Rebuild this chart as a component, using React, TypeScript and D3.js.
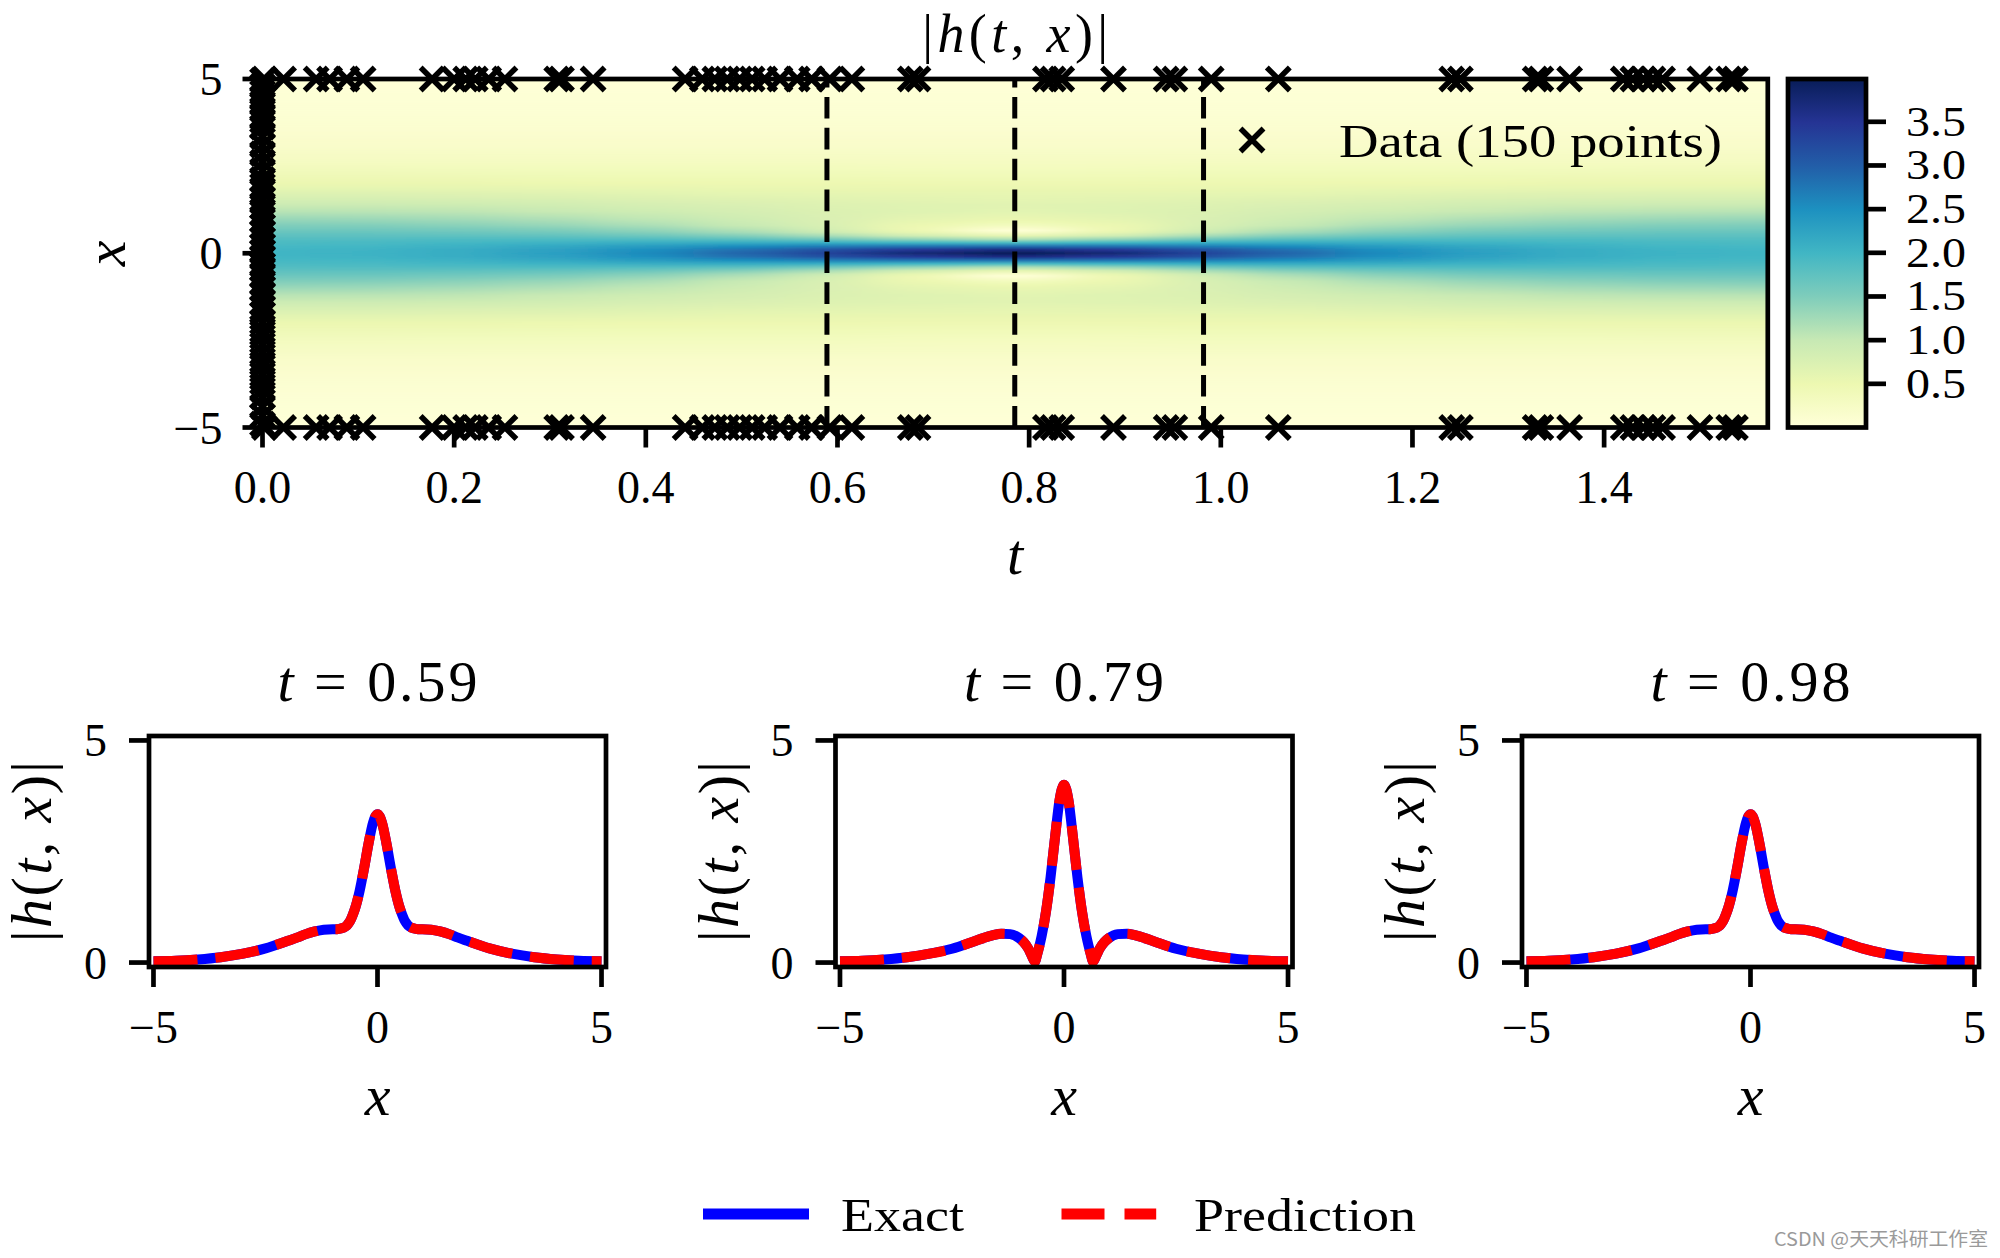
import React from "react";
import * as d3 from "d3";

const SERIF = "'Liberation Serif', 'DejaVu Serif', 'Times New Roman', serif";

// ---------------- data ----------------
const tTicks = [0, 0.2, 0.4, 0.6, 0.8, 1.0, 1.2, 1.4];
const xTicksTop = [-5, 0, 5];
const cbTicks = [0.5, 1.0, 1.5, 2.0, 2.5, 3.0, 3.5];
const tMax = 1.5708;
const cbMax = 3.99;

// |h(t,x)| read off the heat map: one profile per time column, sampled at x >= 0
// (the picture is mirror-symmetric about x = 0, each profile is drawn for both signs of x)
const heatT = [0, 0.1, 0.2, 0.3, 0.4, 0.5, 0.59, 0.68, 0.785, 0.89, 0.98, 1.07, 1.17, 1.27, 1.37, 1.47, 1.571];
const heatX = [0, 0.1, 0.2, 0.3, 0.4, 0.5, 0.6, 0.65, 0.7, 0.8, 0.9, 1.0, 1.2, 1.4, 1.6, 1.8, 2.0, 2.5, 3.0, 3.5, 4.0, 5.0];
const heatZ = [
  [2.0, 1.99, 1.96, 1.91, 1.85, 1.77, 1.69, 1.64, 1.59, 1.5, 1.4, 1.3, 1.1, 0.93, 0.78, 0.64, 0.53, 0.33, 0.2, 0.12, 0.07, 0.03],
  [2.03, 2.02, 1.98, 1.93, 1.86, 1.77, 1.68, 1.63, 1.58, 1.48, 1.38, 1.28, 1.09, 0.92, 0.77, 0.64, 0.53, 0.33, 0.2, 0.12, 0.07, 0.03],
  [2.12, 2.11, 2.05, 1.97, 1.88, 1.76, 1.65, 1.59, 1.54, 1.43, 1.33, 1.23, 1.06, 0.9, 0.75, 0.63, 0.52, 0.32, 0.2, 0.12, 0.07, 0.03],
  [2.29, 2.26, 2.17, 2.04, 1.89, 1.73, 1.59, 1.52, 1.46, 1.34, 1.24, 1.15, 0.99, 0.86, 0.73, 0.62, 0.51, 0.32, 0.2, 0.12, 0.07, 0.03],
  [2.55, 2.49, 2.33, 2.11, 1.87, 1.65, 1.46, 1.39, 1.32, 1.2, 1.11, 1.04, 0.91, 0.8, 0.7, 0.6, 0.5, 0.32, 0.2, 0.12, 0.07, 0.03],
  [2.92, 2.81, 2.52, 2.15, 1.79, 1.48, 1.25, 1.17, 1.1, 1.0, 0.94, 0.89, 0.82, 0.75, 0.66, 0.58, 0.49, 0.32, 0.2, 0.12, 0.07, 0.03],
  [3.34, 3.15, 2.68, 2.12, 1.61, 1.22, 0.96, 0.88, 0.82, 0.77, 0.75, 0.75, 0.74, 0.7, 0.64, 0.56, 0.49, 0.32, 0.2, 0.12, 0.07, 0.03],
  [3.76, 3.47, 2.79, 2.01, 1.35, 0.87, 0.58, 0.51, 0.48, 0.51, 0.57, 0.62, 0.68, 0.67, 0.62, 0.55, 0.48, 0.31, 0.2, 0.12, 0.07, 0.03],
  [4.0, 3.65, 2.82, 1.92, 1.16, 0.59, 0.18, 0.02, 0.11, 0.32, 0.46, 0.55, 0.64, 0.65, 0.61, 0.55, 0.48, 0.31, 0.2, 0.12, 0.07, 0.03],
  [3.76, 3.47, 2.79, 2.01, 1.35, 0.87, 0.58, 0.51, 0.48, 0.51, 0.57, 0.62, 0.68, 0.67, 0.62, 0.55, 0.48, 0.31, 0.2, 0.12, 0.07, 0.03],
  [3.34, 3.15, 2.68, 2.12, 1.61, 1.22, 0.96, 0.88, 0.82, 0.77, 0.75, 0.75, 0.74, 0.7, 0.64, 0.56, 0.49, 0.32, 0.2, 0.12, 0.07, 0.03],
  [2.92, 2.81, 2.52, 2.15, 1.79, 1.48, 1.25, 1.17, 1.1, 1.0, 0.94, 0.89, 0.82, 0.75, 0.66, 0.58, 0.49, 0.32, 0.2, 0.12, 0.07, 0.03],
  [2.55, 2.49, 2.33, 2.11, 1.87, 1.65, 1.46, 1.39, 1.32, 1.2, 1.11, 1.04, 0.91, 0.8, 0.7, 0.6, 0.5, 0.32, 0.2, 0.12, 0.07, 0.03],
  [2.29, 2.26, 2.17, 2.04, 1.89, 1.73, 1.59, 1.52, 1.46, 1.34, 1.24, 1.15, 0.99, 0.86, 0.73, 0.62, 0.51, 0.32, 0.2, 0.12, 0.07, 0.03],
  [2.12, 2.11, 2.05, 1.97, 1.88, 1.76, 1.65, 1.59, 1.54, 1.43, 1.33, 1.23, 1.06, 0.9, 0.75, 0.63, 0.52, 0.32, 0.2, 0.12, 0.07, 0.03],
  [2.03, 2.02, 1.98, 1.93, 1.86, 1.77, 1.68, 1.63, 1.58, 1.48, 1.38, 1.28, 1.09, 0.92, 0.77, 0.64, 0.53, 0.33, 0.2, 0.12, 0.07, 0.03],
  [2.0, 1.99, 1.96, 1.91, 1.85, 1.77, 1.69, 1.64, 1.59, 1.5, 1.4, 1.3, 1.1, 0.93, 0.78, 0.64, 0.53, 0.33, 0.2, 0.12, 0.07, 0.03],
];

// training data: 50 initial points (t = 0) and 50 boundary times (x = +5 and x = -5)
const initX = [
  4.96, 4.8, 4.61, 4.45, 4.3, 4.12, 3.95, 3.8, 3.62, 3.35, 3.1, 2.86, 2.62, 2.37, 2.12, 1.94, 1.76, 1.55, 1.33, 1.15,
  0.94, 0.77, 0.58, 0.4, 0.21, 0.05, -0.12, -0.33, -0.45, -0.62, -0.83, -1.01, -1.2, -1.41, -1.58, -1.74, -1.98, -2.21,
  -2.4, -2.63, -2.85, -3.07, -3.26, -3.48, -3.7, -3.91, -4.12, -4.4, -4.66, -4.9,
];
const boundT = [
  0.002, 0.022, 0.056, 0.07, 0.088, 0.105, 0.177, 0.2, 0.212, 0.222, 0.236, 0.253, 0.307, 0.312, 0.345,
  0.441, 0.459, 0.472, 0.485, 0.498, 0.511, 0.524, 0.54, 0.558, 0.573, 0.592, 0.615, 0.676, 0.684,
  0.817, 0.825, 0.834, 0.888, 0.943, 0.952, 0.99, 1.06, 1.241, 1.25, 1.328, 1.334, 1.364,
  1.42, 1.43, 1.441, 1.451, 1.461, 1.5, 1.53, 1.537,
];

// time slices
const sliceT = [0.589, 0.785, 0.982];
const sliceLabels = ["0.59", "0.79", "0.98"];
const panelXTicks = [-5, 0, 5];
const panelYTicks = [0, 5];

const lineX = [
  -5, -4.5, -4, -3.5, -3, -2.5, -2, -1.8, -1.6, -1.4, -1.2, -1, -0.9, -0.8, -0.75, -0.7, -0.65, -0.6, -0.55, -0.5, -0.4,
  -0.3, -0.2, -0.1, 0, 0.1, 0.2, 0.3, 0.4, 0.5, 0.55, 0.6, 0.65, 0.7, 0.75, 0.8, 0.9, 1, 1.2, 1.4, 1.6, 1.8, 2, 2.5, 3,
  3.5, 4, 4.5, 5,
];
const exact059 = [
  0.03, 0.04, 0.07, 0.12, 0.2, 0.32, 0.49, 0.56, 0.64, 0.7, 0.74, 0.75, 0.75, 0.77, 0.79, 0.82, 0.88, 0.96, 1.08, 1.22, 1.61,
  2.12, 2.68, 3.15, 3.34, 3.15, 2.68, 2.12, 1.61, 1.22, 1.08, 0.96, 0.88, 0.82, 0.79, 0.77, 0.75, 0.75, 0.74, 0.7, 0.64, 0.56,
  0.49, 0.32, 0.2, 0.12, 0.07, 0.04, 0.03,
];
const exact079 = [
  0.03, 0.04, 0.07, 0.12, 0.2, 0.31, 0.48, 0.55, 0.61, 0.65, 0.64, 0.55, 0.46, 0.32, 0.22, 0.11, 0.02, 0.18, 0.37, 0.59, 1.16,
  1.92, 2.82, 3.65, 4.0, 3.65, 2.82, 1.92, 1.16, 0.59, 0.37, 0.18, 0.02, 0.11, 0.22, 0.32, 0.46, 0.55, 0.64, 0.65, 0.61, 0.55,
  0.48, 0.31, 0.2, 0.12, 0.07, 0.04, 0.03,
];
const exact098 = [
  0.03, 0.04, 0.07, 0.12, 0.2, 0.32, 0.49, 0.56, 0.64, 0.7, 0.74, 0.75, 0.75, 0.77, 0.79, 0.82, 0.88, 0.96, 1.08, 1.22, 1.61,
  2.12, 2.68, 3.15, 3.34, 3.15, 2.68, 2.12, 1.61, 1.22, 1.08, 0.96, 0.88, 0.82, 0.79, 0.77, 0.75, 0.75, 0.74, 0.7, 0.64, 0.56,
  0.49, 0.32, 0.2, 0.12, 0.07, 0.04, 0.03,
];
// the prediction coincides with the exact solution in the picture
const pred059 = exact059;
const pred079 = exact079;
const pred098 = exact098;
const exactSlices = [exact059, exact079, exact098];
const predSlices = [pred059, pred079, pred098];

const YlGnBu = ["#ffffd9", "#edf8b1", "#c7e9b4", "#7fcdbb", "#41b6c4", "#1d91c0", "#225ea8", "#253494", "#081d58"];

// ---------------- layout ----------------
const L = 262.5, R = 1767.8, T = 79, B = 427.5;
const CBL = 1788, CBW = 78;
const PL0 = 149, PSTEP = 686.5, PW = 457, PT = 736, PB = 967;
const TICK = 46;
const LABEL = 58;
const SPINE = 4.7;
const TLEN = 20;

function MathHTX({ x, y, size, anchor = "middle", len, transform }: any) {
  return (
    <text x={x} y={y} fontSize={size} textAnchor={anchor} fontFamily={SERIF} transform={transform}
      textLength={len} lengthAdjust="spacing">
      |<tspan fontStyle="italic">h</tspan>(<tspan fontStyle="italic">t</tspan>, <tspan fontStyle="italic">x</tspan>)|
    </text>
  );
}

export default function App() {
  const xS = d3.scaleLinear().domain([0, tMax]).range([L, R]);
  const yS = d3.scaleLinear().domain([-5, 5]).range([B, T]);
  const color = d3
    .scaleLinear<string>()
    .domain(YlGnBu.map((_, i) => (i / 8) * cbMax))
    .range(YlGnBu)
    .interpolate(d3.interpolateRgb)
    .clamp(true);
  const cbS = d3.scaleLinear().domain([0, cbMax]).range([B, T]);

  const colStops = heatT.map((_, j) => {
    const s: { off: number; c: string }[] = [];
    for (let i = heatX.length - 1; i >= 0; i--) s.push({ off: (yS(heatX[i]) - T) / (B - T), c: color(heatZ[j][i]) });
    for (let i = 1; i < heatX.length; i++) s.push({ off: (yS(-heatX[i]) - T) / (B - T), c: color(heatZ[j][i]) });
    return s;
  });
  const colEdges = heatT.map((t, j) => {
    const l = j === 0 ? L - 120 : (xS(heatT[j - 1]) + xS(t)) / 2;
    const r = j === heatT.length - 1 ? R + 120 : (xS(t) + xS(heatT[j + 1])) / 2;
    return [l - 0.5, r + 0.5];
  });

  const ms = 11.5;
  const xMark = (cx: number, cy: number, k: string) => (
    <path key={k} d={`M${cx - ms},${cy - ms}L${cx + ms},${cy + ms}M${cx - ms},${cy + ms}L${cx + ms},${cy - ms}`}
      stroke="#000" strokeWidth={5.5} fill="none" />
  );

  return (
    <svg width={2000} height={1258} style={{ position: "absolute", left: 0, top: 0, background: "#fff" }}
      fontFamily={SERIF}>
      <defs>
        {colStops.map((s, j) => (
          <linearGradient key={j} id={`col${j}`} gradientUnits="userSpaceOnUse" x1={0} y1={T} x2={0} y2={B}>
            {s.map((st, k) => (
              <stop key={k} offset={st.off} stopColor={st.c} />
            ))}
          </linearGradient>
        ))}
        <linearGradient id="cbGrad" gradientUnits="userSpaceOnUse" x1={0} y1={B} x2={0} y2={T}>
          {YlGnBu.map((c, i) => (
            <stop key={i} offset={i / 8} stopColor={c} />
          ))}
        </linearGradient>
        <clipPath id="heatClip">
          <rect x={L} y={T} width={R - L} height={B - T} />
        </clipPath>
        <filter id="hblur" filterUnits="userSpaceOnUse" x={L - 140} y={T - 5} width={R - L + 280} height={B - T + 10}>
          <feGaussianBlur stdDeviation="30 0.01" />
        </filter>
      </defs>
      <rect x={0} y={0} width={2000} height={1258} fill="#fff" />

      {/* ---------- heat map ---------- */}
      <g clipPath="url(#heatClip)">
        <g filter="url(#hblur)">
          {colEdges.map(([l, r], j) => (
            <rect key={j} x={l} y={T} width={r - l} height={B - T} fill={`url(#col${j})`} />
          ))}
        </g>
      </g>
      {/* slice lines */}
      {sliceT.map((t, i) => (
        <line key={i} x1={xS(t)} x2={xS(t)} y1={B} y2={T} stroke="#000" strokeWidth={5} strokeDasharray="21.6 9.3" />
      ))}
      <rect x={L} y={T} width={R - L} height={B - T} fill="none" stroke="#000" strokeWidth={SPINE} />
      {/* ticks */}
      {tTicks.map((t) => (
        <g key={t}>
          <line x1={xS(t)} x2={xS(t)} y1={B} y2={B + TLEN} stroke="#000" strokeWidth={SPINE} />
          <text x={xS(t)} y={B + 75} fontSize={TICK} textAnchor="middle">{t.toFixed(1)}</text>
        </g>
      ))}
      {xTicksTop.map((v) => (
        <g key={v}>
          <line x1={L - TLEN} x2={L} y1={yS(v)} y2={yS(v)} stroke="#000" strokeWidth={SPINE} />
          <text x={L - 40} y={yS(v) + 16} fontSize={TICK} textAnchor="end">{v < 0 ? `\u2212${-v}` : `${v}`}</text>
        </g>
      ))}
      {/* data markers */}
      {initX.map((x, i) => xMark(xS(0), yS(x), `i${i}`))}
      {boundT.map((t, i) => xMark(xS(t), yS(5), `u${i}`))}
      {boundT.map((t, i) => xMark(xS(t), yS(-5), `l${i}`))}
      {/* legend in heat map */}
      {xMark(1252, 140, "leg")}
      <text x={1339} y={157} fontSize={TICK} textLength={383} lengthAdjust="spacingAndGlyphs">Data (150 points)</text>
      {/* labels */}
      <MathHTX x={(L + R) / 2} y={52} size={54} len={186} />
      <text x={(L + R) / 2} y={574} fontSize={LABEL} textAnchor="middle" fontStyle="italic">t</text>
      <text transform={`translate(125, ${(T + B) / 2}) rotate(-90)`} fontSize={LABEL} textAnchor="middle" fontStyle="italic">x</text>

      {/* ---------- colorbar ---------- */}
      <rect x={CBL} y={T} width={CBW} height={B - T} fill="url(#cbGrad)" stroke="#000" strokeWidth={SPINE} />
      {cbTicks.map((v) => (
        <g key={v}>
          <line x1={CBL + CBW} x2={CBL + CBW + TLEN} y1={cbS(v)} y2={cbS(v)} stroke="#000" strokeWidth={SPINE} />
          <text x={1906} y={cbS(v) + 14} fontSize={42} textLength={60} lengthAdjust="spacingAndGlyphs">{v.toFixed(1)}</text>
        </g>
      ))}

      {/* ---------- slices ---------- */}
      {sliceLabels.map((lab, i) => {
        const pl = PL0 + i * PSTEP;
        const pr = pl + PW;
        const px = d3.scaleLinear().domain([-5.1, 5.1]).range([pl, pr]);
        const py = d3.scaleLinear().domain([-0.1, 5.1]).range([PB, PT]);
        const line = d3
          .line<number>()
          .x((_, k) => px(lineX[k]))
          .y((d) => py(d))
          .curve(d3.curveMonotoneX);
        const cx = (pl + pr) / 2;
        return (
          <g key={i}>
            <path d={line(exactSlices[i]) || ""} fill="none" stroke="#0000ff" strokeWidth={10} />
            <path d={line(predSlices[i]) || ""} fill="none" stroke="#ff0000" strokeWidth={10} strokeDasharray="44 18" />
            <rect x={pl} y={PT} width={PW} height={PB - PT} fill="none" stroke="#000" strokeWidth={SPINE} />
            {panelXTicks.map((v) => (
              <g key={v}>
                <line x1={px(v)} x2={px(v)} y1={PB} y2={PB + TLEN} stroke="#000" strokeWidth={SPINE} />
                <text x={px(v)} y={PB + 76} fontSize={TICK} textAnchor="middle">{v < 0 ? `\u2212${-v}` : `${v}`}</text>
              </g>
            ))}
            {panelYTicks.map((v) => (
              <g key={v}>
                <line x1={pl - TLEN} x2={pl} y1={py(v)} y2={py(v)} stroke="#000" strokeWidth={SPINE} />
                <text x={pl - 42} y={py(v) + 16} fontSize={TICK} textAnchor="end">{v}</text>
              </g>
            ))}
            <text x={cx} y={701} fontSize={LABEL} textAnchor="middle" textLength={200} lengthAdjust="spacing">
              <tspan fontStyle="italic">t</tspan> = {lab}
            </text>
            <text x={cx} y={1115} fontSize={LABEL} textAnchor="middle" fontStyle="italic">x</text>
            <MathHTX x={0} y={0} size={LABEL} len={181} transform={`translate(${pl - 98}, ${(PT + PB) / 2}) rotate(-90)`} />
          </g>
        );
      })}

      {/* ---------- bottom legend ---------- */}
      <line x1={703} x2={809} y1={1214} y2={1214} stroke="#0000ff" strokeWidth={11} />
      <text x={841} y={1231} fontSize={TICK} textLength={123} lengthAdjust="spacingAndGlyphs">Exact</text>
      <line x1={1061.5} x2={1156.2} y1={1214} y2={1214} stroke="#ff0000" strokeWidth={11} strokeDasharray="43 20" />
      <text x={1194} y={1231} fontSize={TICK} textLength={222} lengthAdjust="spacingAndGlyphs">Prediction</text>

      <text x={1774} y={1246} fontSize={19} fill="#9a9a9a" fontFamily="'Noto Sans CJK SC', 'Noto Sans', sans-serif"
        textLength={214} lengthAdjust="spacingAndGlyphs">CSDN @天天科研工作室</text>
    </svg>
  );
}
